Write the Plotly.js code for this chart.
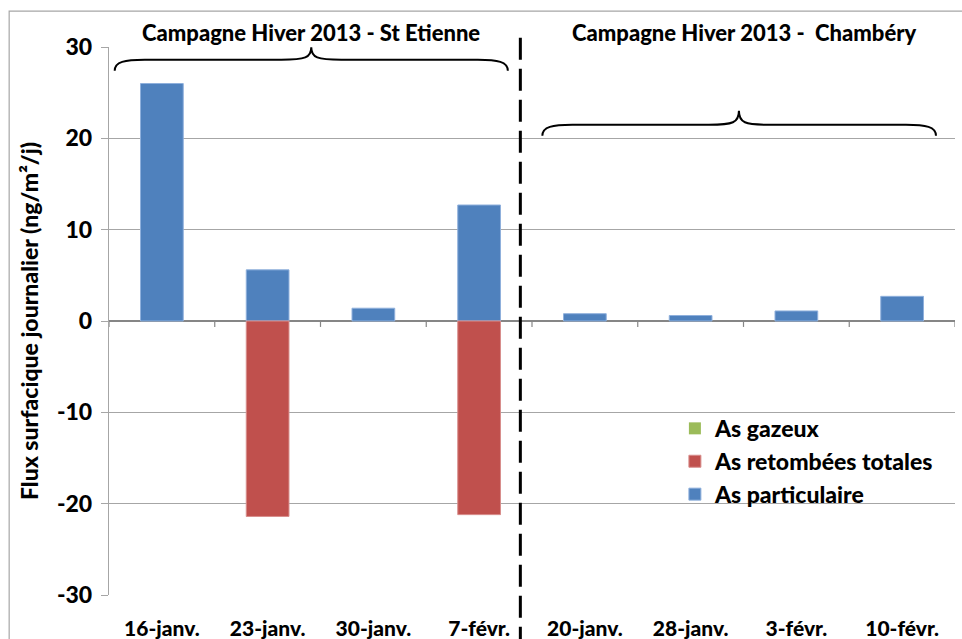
<!DOCTYPE html>
<html><head><meta charset="utf-8">
<script src="https://cdn.plot.ly/plotly-3.0.1.min.js"></script>
<style>html,body{margin:0;padding:0;background:#fff}#chart{width:962px;height:639px}</style>
</head><body><div id="chart"></div>
<script>
const categories = ['16-janv.', '23-janv.', '30-janv.', '7-févr.', '20-janv.', '28-janv.', '3-févr.', '10-févr.'];
const asParticulaire = [26, 5.6, 1.4, 12.7, 0.8, 0.6, 1.1, 2.7];
const asRetombees = [null, -21.4, null, -21.2, null, null, null, null];
const asGazeux = [null, null, null, null, null, null, null, null];
const yTickVals = [-30, -20, -10, 0, 10, 20, 30];
const yTickText = ['-30', '-20', '-10', '0', '10', '20', '30'];
const groupTitles = ['Campagne Hiver 2013 - St Etienne', 'Campagne Hiver 2013 -  Chambéry'];
const yTitle = 'Flux surfacique journalier (ng/m²/j)';

const FONT = 'Lato, "Open Sans", sans-serif';
const W = 962, H = 639;
const L = 109.3, R = 955, T = 47.3, B = 595;
const px = x => (x - L) / (R - L);
const py = y => (B - y) / (B - T);

function brace(x0, x1, xt, yEnd, yMid, yTip) {
  const p = (x, y) => px(x).toFixed(5) + ',' + py(y).toFixed(5);
  const k = 30;
  return 'M' + p(x0, yEnd) +
    ' C' + p(x0, yMid + 2) + ' ' + p(x0 + 10, yMid) + ' ' + p(x0 + k, yMid) +
    ' L' + p(xt - k, yMid) +
    ' C' + p(xt - 6, yMid) + ' ' + p(xt, yMid - 2) + ' ' + p(xt, yTip) +
    ' C' + p(xt, yMid - 2) + ' ' + p(xt + 6, yMid) + ' ' + p(xt + k, yMid) +
    ' L' + p(x1 - k, yMid) +
    ' C' + p(x1 - 10, yMid) + ' ' + p(x1, yMid + 2) + ' ' + p(x1, yEnd);
}

const shapes = [
  {type: 'rect', xref: 'paper', yref: 'paper', x0: px(9.5), x1: px(975), y0: py(650), y1: py(11.5),
   line: {color: '#a6a6a6', width: 1.2}, fillcolor: 'rgba(0,0,0,0)', layer: 'below'},
  {type: 'path', xref: 'paper', yref: 'paper', path: brace(115, 508, 311.5, 71, 60, 47.5),
   line: {color: '#000', width: 2}},
  {type: 'path', xref: 'paper', yref: 'paper', path: brace(542.5, 936, 739, 136, 125, 111),
   line: {color: '#000', width: 2}},
  {type: 'line', xref: 'paper', yref: 'paper', x0: px(520.5), x1: px(520.5), y0: py(38), y1: py(645),
   line: {color: '#000', width: 3, dash: '22px,9px'}}
];
for (let i = 0; i <= categories.length; i++) {
  shapes.push({type: 'line', xref: 'x', yref: 'y', x0: i - 0.5, x1: i - 0.5, y0: 0, y1: -0.65,
    line: {color: '#868686', width: 1.2}});
}

const data = [
  {type: 'bar', name: 'As particulaire', x: categories, y: asParticulaire,
   marker: {color: '#4f81bd', line: {color: '#8fb0dc', width: 1}}, width: 0.404},
  {type: 'bar', name: 'As retombées totales', x: categories, y: asRetombees,
   marker: {color: '#c0504d', line: {color: '#d88e8c', width: 1}}, width: 0.404},
  {type: 'bar', name: 'As gazeux', x: categories, y: asGazeux,
   marker: {color: '#9bbb59'}, width: 0.404}
];

const layout = {
  width: W, height: H,
  margin: {l: L, r: W - R, t: T, b: H - B},
  paper_bgcolor: '#fff', plot_bgcolor: '#fff',
  barmode: 'relative',
  showlegend: true,
  font: {family: FONT, color: '#000'},
  legend: {x: px(675), y: py(407), xanchor: 'left', yanchor: 'top', traceorder: 'reversed',
    font: {family: FONT, size: 23, color: '#000', weight: 900}, bgcolor: 'rgba(0,0,0,0)',
    itemwidth: 30, tracegroupgap: 0},
  xaxis: {type: 'category', range: [-0.5, categories.length - 0.5], showgrid: false, zeroline: false,
    showline: false, ticks: '', ticklabelstandoff: 19,
    tickfont: {family: FONT, size: 21, color: '#000', weight: 900}},
  yaxis: {range: [-30, 30], tickvals: yTickVals, ticktext: yTickText, showgrid: true, gridcolor: '#a6a6a6',
    gridwidth: 1.2, zeroline: true, zerolinecolor: '#868686', zerolinewidth: 2,
    showline: true, linecolor: '#a6a6a6', linewidth: 1.2, ticks: 'outside', ticklen: 7, tickcolor: '#a6a6a6',
    ticklabelstandoff: 4,
    tickfont: {family: FONT, size: 23, color: '#000', weight: 900},
    title: {text: yTitle, standoff: 11, font: {family: FONT, size: 23, color: '#000', weight: 900}}},
  shapes: shapes,
  annotations: [
    {xref: 'paper', yref: 'paper', x: px(311), y: py(33), text: groupTitles[0], showarrow: false,
     xanchor: 'center', yanchor: 'middle', font: {family: FONT, size: 22, color: '#000', weight: 900}},
    {xref: 'paper', yref: 'paper', x: px(745), y: py(33), text: groupTitles[1], showarrow: false,
     xanchor: 'center', yanchor: 'middle', font: {family: FONT, size: 22, color: '#000', weight: 900}}
  ]
};
Plotly.newPlot('chart', data, layout, {displayModeBar: false, staticPlot: true});
</script></body></html>
